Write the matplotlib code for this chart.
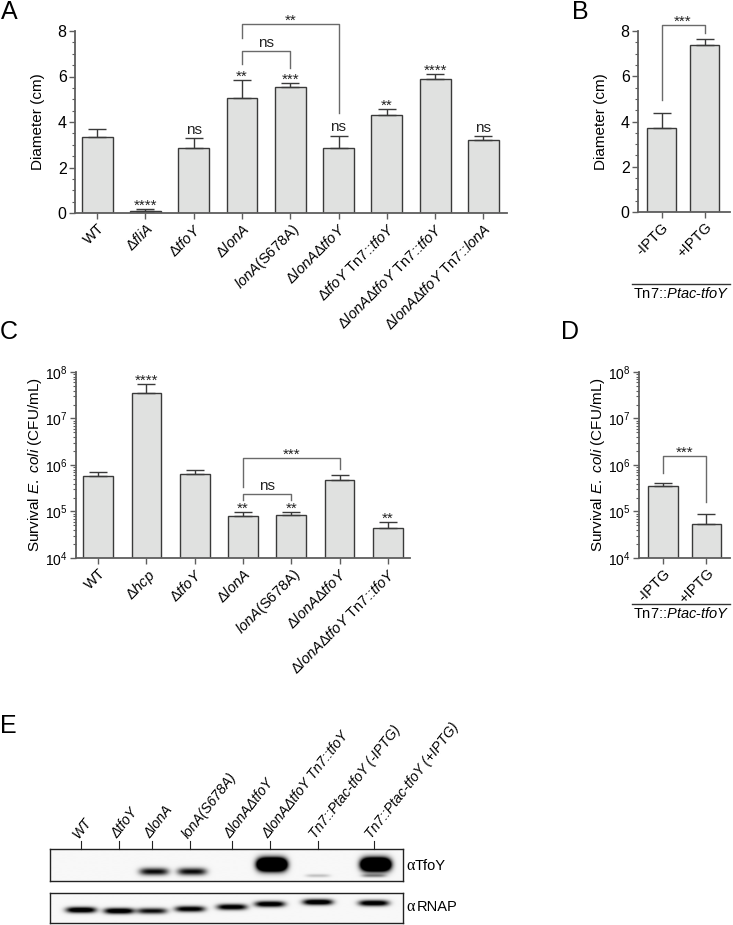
import numpy as np
import matplotlib.pyplot as plt
from matplotlib.lines import Line2D
from matplotlib.ticker import AutoMinorLocator, LogLocator, NullFormatter

plt.rcParams['font.family'] = ['Liberation Sans', 'DejaVu Sans']
plt.rcParams['mathtext.fontset'] = 'custom'
plt.rcParams['mathtext.rm'] = 'Liberation Sans'
plt.rcParams['mathtext.it'] = 'Liberation Sans:italic'
plt.rcParams['mathtext.bf'] = 'Liberation Sans:bold'

# ---------------- data ----------------
# A: swarming diameter
a_labels = ['WT', r'Δ$\mathit{fliA}$', r'Δ$\mathit{tfoY}$', r'Δ$\mathit{lonA}$',
            r'$\mathit{lonA}$(S678A)', r'Δ$\mathit{lonA}$Δ$\mathit{tfoY}$',
            r'Δ$\mathit{tfoY}$ Tn7::$\mathit{tfoY}$',
            r'Δ$\mathit{lonA}$Δ$\mathit{tfoY}$ Tn7::$\mathit{tfoY}$',
            r'Δ$\mathit{lonA}$Δ$\mathit{tfoY}$ Tn7::$\mathit{lonA}$']
a_mean = [3.35, 0.10, 2.84, 5.07, 5.52, 2.84, 4.29, 5.90, 3.20]
a_err = [0.33, 0.09, 0.47, 0.76, 0.19, 0.56, 0.27, 0.19, 0.18]
a_sig = ['', '****', 'ns', '**', '***', 'ns', '**', '****', 'ns']
# (bar i, bar j, top, left leg end, right leg end, text)
a_brackets = [(3, 4, 7.13, 6.57, 6.36, 'ns'), (3, 5, 8.30, 7.70, 4.38, '**')]

# B: inducible tfoY, diameter
b_labels = ['-IPTG', '+IPTG']
b_mean = [3.70, 7.40]
b_err = [0.66, 0.23]
b_sig = ['', '']
b_brackets = [(0, 1, 8.25, 4.96, 7.90, '***')]

# C: E. coli survival
c_labels = ['WT', r'Δ$\mathit{hcp}$', r'Δ$\mathit{tfoY}$', r'Δ$\mathit{lonA}$',
            r'$\mathit{lonA}$(S678A)', r'Δ$\mathit{lonA}$Δ$\mathit{tfoY}$',
            r'Δ$\mathit{lonA}$Δ$\mathit{tfoY}$ Tn7::$\mathit{tfoY}$']
c_mean = [5.7e5, 3.5e7, 6.4e5, 8.1e4, 8.3e4, 4.7e5, 4.4e4]
c_top = [6.9e5, 5.6e7, 7.7e5, 9.7e4, 9.7e4, 6.0e5, 5.9e4]
c_sig = ['', '****', '', '**', '**', '', '**']
c_brackets = [(3, 4, 2.4e5, 1.78e5, 1.78e5, 'ns'), (3, 5, 1.38e6, 3.4e5, 8.1e5, '***')]

# D: inducible tfoY, survival
d_labels = ['-IPTG', '+IPTG']
d_mean = [3.6e5, 5.4e4]
d_top = [4.1e5, 8.9e4]
d_sig = ['', '']
d_brackets = [(0, 1, 1.58e6, 6.6e5, 1.62e5, '***')]

# E: western blot
e_labels = ['WT', 'ΔtfoY', 'ΔlonA', 'lonA(S678A)', 'ΔlonAΔtfoY',
            'ΔlonAΔtfoY Tn7::tfoY', 'Tn7::Ptac-tfoY (-IPTG)', 'Tn7::Ptac-tfoY (+IPTG)']
tfoy_signal = [0.0, 0.0, 0.95, 0.95, 0.0, 3.0, 0.0, 3.0]
tfoy_lower = [0.0, 0.0, 0.0, 0.0, 0.0, 0.0, 0.22, 0.4]
rnap_signal = [1.25, 1.25, 0.95, 1.1, 1.15, 1.2, 1.25, 1.2]

c_err = [t - m for t, m in zip(c_top, c_mean)]
d_err = [t - m for t, m in zip(d_top, d_mean)]

# ---------------- figure ----------------
W, H = 733, 925
fig = plt.figure(figsize=(W / 100, H / 100), dpi=100)


def px_axes(l, t, r, b):
    return fig.add_axes([l / W, 1 - b / H, (r - l) / W, (b - t) / H])


def fx(x):
    return x / W


def fy(y):
    return 1 - y / H


EDGE = '#3a3a3a'
FILL = '#e0e1e0'
AXC = '#5e5e5e'
BRC = '#6a6a6a'


def sig_text(ax, x, y, s):
    off = 3 if s == 'ns' else -0.5
    ax.annotate(s, (x, y), xytext=(0, off), textcoords='offset points',
                ha='center', va='baseline', fontsize=11, color='#222222',
                annotation_clip=False)


def bar_panel(ax, labels, mean, err, sig, brackets, width, xlim, ylim, log=False):
    x = np.arange(len(mean))
    if log:
        ax.set_yscale('log')
    ax.bar(x, mean, width=width, color=FILL, edgecolor=EDGE, linewidth=1.0, zorder=2)
    ax.errorbar(x, mean, yerr=[np.zeros(len(err)), err], fmt='none', ecolor=EDGE,
                elinewidth=1.0, capsize=6.5, capthick=1.0, zorder=3)
    ax.set_xlim(*xlim)
    ax.set_ylim(*ylim)
    ax.set_xticks(x)
    ax.set_xticklabels(labels, rotation=45, ha='right', rotation_mode='anchor', fontsize=10.5)
    for s in ['top', 'right']:
        ax.spines[s].set_visible(False)
    for s in ['left', 'bottom']:
        ax.spines[s].set_color(AXC)
        ax.spines[s].set_linewidth(1.3)
    ax.tick_params(which='major', length=4, width=1, color=AXC, pad=2)
    ax.tick_params(which='minor', length=2, width=0.8, color=AXC)
    if log:
        ax.yaxis.set_major_locator(LogLocator(base=10, numticks=10))
        ax.yaxis.set_minor_locator(LogLocator(base=10, subs=np.arange(2, 10), numticks=20))
        ax.yaxis.set_minor_formatter(NullFormatter())
        ax.tick_params(axis='y', labelsize=10)
    else:
        ax.set_yticks([0, 2, 4, 6, 8])
        ax.yaxis.set_minor_locator(AutoMinorLocator(4))
        ax.tick_params(axis='y', labelsize=11.5)
    ax.tick_params(axis='x', which='minor', bottom=False)
    for xi, m, e, s in zip(x, mean, err, sig):
        if s:
            sig_text(ax, xi, m + e, s)
    for i, j, top, yl, yr, s in brackets:
        ax.plot([i, i, j, j], [yl, top, top, yr], color=BRC, lw=1.0, clip_on=False, zorder=4)
        sig_text(ax, (i + j) / 2, top, s)


ax_a = px_axes(75, 31, 507, 213)
bar_panel(ax_a, a_labels, a_mean, a_err, a_sig, a_brackets, 0.64, (-0.46, 8.49), (0, 8))
ax_a.set_ylabel('Diameter (cm)', fontsize=11, labelpad=9)

ax_b = px_axes(638, 31, 730, 212)
bar_panel(ax_b, b_labels, b_mean, b_err, b_sig, b_brackets, 0.67, (-0.547, 1.59), (0, 8))
ax_b.set_ylabel('Diameter (cm)', fontsize=11, labelpad=9)

ax_c = px_axes(76, 372, 410, 558)
bar_panel(ax_c, c_labels, c_mean, c_err, c_sig, c_brackets, 0.62, (-0.46, 6.46), (1e4, 1e8), log=True)
ax_c.set_ylabel(r'Survival $\mathit{E.\ coli}$ (CFU/mL)', fontsize=11, labelpad=1)

ax_d = px_axes(639, 372, 730, 558)
bar_panel(ax_d, d_labels, d_mean, d_err, d_sig, d_brackets, 0.68, (-0.545, 1.54), (1e4, 1e8), log=True)
ax_d.set_ylabel(r'Survival $\mathit{E.\ coli}$ (CFU/mL)', fontsize=11, labelpad=1)

# group underline for B and D
for y_line in [284, 604]:
    fig.add_artist(Line2D([fx(632), fx(730)], [fy(y_line), fy(y_line)], color='#333333', lw=1.0))
    fig.text(fx(681), fy(y_line + 2), r'Tn7::$\mathit{Ptac}$-$\mathit{tfoY}$', fontsize=10.5,
             ha='center', va='top')

# panel letters
for letter, x0, y0 in [('A', 1, 0), ('B', 572, 0), ('C', 0, 320), ('D', 561, 320), ('E', 0, 714)]:
    fig.text(fx(x0), fy(y0), letter, fontsize=18, va='top', ha='left')

# ---------------- blot ----------------
BW = 353
lane_x = [31, 69, 102, 140, 182, 220, 268, 324]
rnap_y = [17, 18, 18, 16, 14, 11, 9, 10]

xs = np.linspace(0, BW, 2 * BW + 1)


def blot_image(height):
    ys = np.linspace(0, height, 2 * height + 1)
    X, Y = np.meshgrid(xs, ys)
    return X, Y, np.full(X.shape, 0.03)


def band(X, Y, xc, yc, amp, sx, sy):
    return amp * np.exp(-((X - xc) / sx) ** 4 - ((Y - yc) / sy) ** 2)


ax_t = px_axes(50, 849, 403, 881)
X, Y, img = blot_image(32)
for lx, s, lo in zip(lane_x, tfoy_signal, tfoy_lower):
    if s > 0:
        yc = 16 if s > 1 else 23
        img += band(X, Y, lx + 2, yc, s, 14.5, 3.7 * s ** 0.45)
    if lo > 0:
        img += band(X, Y, lx, 27, lo, 12, 1.6)
ax_t.imshow(np.clip(img, 0, 1), extent=(0, BW, 32, 0), cmap='gray_r', vmin=0, vmax=1,
            aspect='auto', interpolation='bilinear')

ax_r = px_axes(50, 893, 403, 923)
X, Y, img = blot_image(30)
for lx, s, yc in zip(lane_x, rnap_signal, rnap_y):
    img += band(X, Y, lx, yc, s, 15, 3.0)
ax_r.imshow(np.clip(img, 0, 1), extent=(0, BW, 30, 0), cmap='gray_r', vmin=0, vmax=1,
            aspect='auto', interpolation='bilinear')

for ax in [ax_t, ax_r]:
    ax.set_xticks([])
    ax.set_yticks([])
    for s in ax.spines.values():
        s.set_color('#222222')
        s.set_linewidth(1.0)

for lx, lab in zip(lane_x, e_labels):
    ax_t.plot([lx, lx], [1.0, 1.25], transform=ax_t.get_xaxis_transform(), color='#222222',
              lw=0.8, clip_on=False)
    ax_t.text(lx - 2, 1.31, lab, transform=ax_t.get_xaxis_transform(), rotation=52,
              rotation_mode='anchor', ha='left', va='baseline', style='italic', fontsize=10)

for y0, name, xn in [(866, 'TfoY', 415), (907, 'RNAP', 417)]:
    fig.text(fx(406), fy(y0), 'α', family=['Liberation Serif'], fontsize=11.5, va='center')
    fig.text(fx(xn), fy(y0), name, fontsize=10.5, va='center')

fig.savefig('out.png', dpi=100)
